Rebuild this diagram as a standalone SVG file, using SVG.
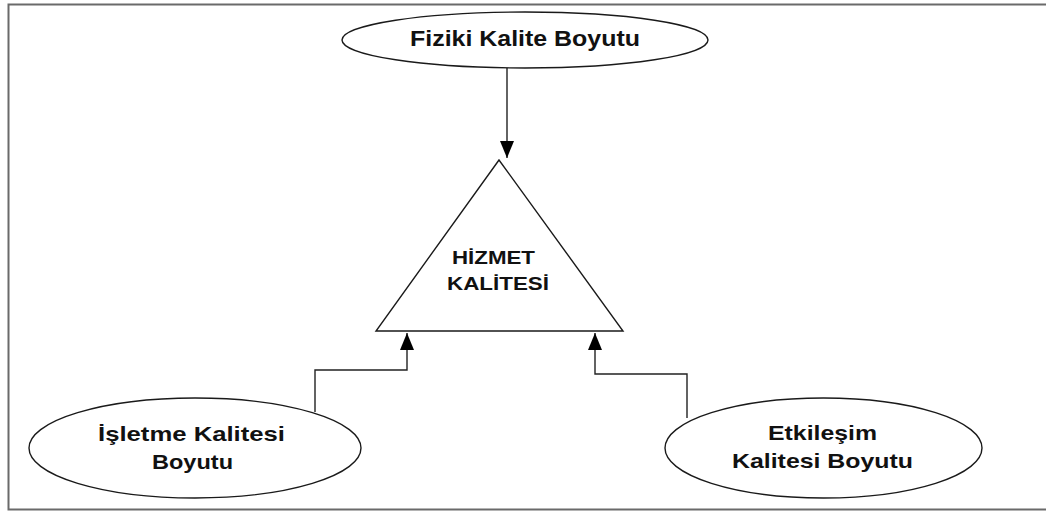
<svg xmlns="http://www.w3.org/2000/svg" width="1046" height="512" viewBox="0 0 1046 512">
<style>
.shape{fill:#fff;stroke:#1a1a1a;stroke-width:1.4}
.conn{fill:none;stroke:#222;stroke-width:1.4}
.lbl{font-family:"Liberation Sans",Arial,sans-serif;font-weight:bold;fill:#111;text-anchor:middle}
</style>
<defs>
<marker id="ah" markerWidth="18" markerHeight="14" refX="17" refY="7" orient="auto" markerUnits="userSpaceOnUse">
<path d="M0,0 L17,7 L0,14 Z" fill="#000"/>
</marker>
</defs>
<rect width="1046" height="512" fill="#fff"/>
<path d="M1046,4.5 H8.5 V509.5 H1046" fill="none" stroke="#6a6a6a" stroke-width="2"/>
<g id="connectors">
<line class="conn" x1="507" y1="68" x2="507" y2="158" marker-end="url(#ah)"/>
<polyline class="conn" points="315,412 315,370 407,370 407,333" marker-end="url(#ah)"/>
<polyline class="conn" points="687,418 687,374 595,374 595,333" marker-end="url(#ah)"/>
</g>
<g id="fiziki">
<ellipse class="shape" cx="525" cy="40" rx="183" ry="28"/>
<text class="lbl" x="525" y="45.5" font-size="22" textLength="230" lengthAdjust="spacingAndGlyphs">Fiziki Kalite Boyutu</text>
</g>
<g id="hizmet">
<polygon class="shape" points="499,160 376,331 623,331"/>
<text class="lbl" x="493.5" y="263.5" font-size="19" textLength="83" lengthAdjust="spacingAndGlyphs">HİZMET</text>
<text class="lbl" x="498" y="289.5" font-size="19" textLength="102" lengthAdjust="spacingAndGlyphs">KALİTESİ</text>
</g>
<g id="isletme">
<ellipse class="shape" cx="195" cy="448" rx="166" ry="50"/>
<text class="lbl" x="191.5" y="440.5" font-size="21" textLength="187" lengthAdjust="spacingAndGlyphs">İşletme Kalitesi</text>
<text class="lbl" x="192.5" y="468.5" font-size="21" textLength="81" lengthAdjust="spacingAndGlyphs">Boyutu</text>
</g>
<g id="etkilesim">
<ellipse class="shape" cx="823.5" cy="448" rx="158.5" ry="50"/>
<text class="lbl" x="822.5" y="439.5" font-size="21" textLength="109" lengthAdjust="spacingAndGlyphs">Etkileşim</text>
<text class="lbl" x="822.5" y="467.5" font-size="21" textLength="181" lengthAdjust="spacingAndGlyphs">Kalitesi Boyutu</text>
</g>
</svg>
